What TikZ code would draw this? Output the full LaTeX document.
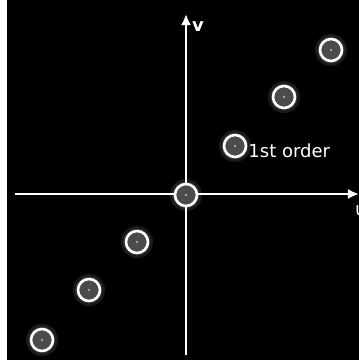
\documentclass[tikz,border=0pt]{standalone}
\usepackage{fontspec}
\setmainfont{DejaVu Sans}
\usetikzlibrary{arrows.meta,positioning}
\definecolor{SpotGrey}{RGB}{75,75,75}

\tikzset{
 spot/.style={circle,draw=white,line width=2.6pt,fill=SpotGrey,minimum size=22pt,inner sep=0pt,
  path picture={\fill[gray!70] (path picture bounding box.center) circle (1.4pt);}},
 glow/.style={circle,fill=white,opacity=.1,minimum size=32pt,inner sep=0pt},
 axis/.style={line width=2.8pt,white,-{Latex[length=11pt,width=10pt]}},
 lab/.style={text=white,font=\fontsize{18}{20}\selectfont}
}

\begin{document}
\begin{tikzpicture}[x=1pt,y=1pt]
\useasboundingbox (0,0) rectangle (359,360);
\fill[white] (0,0) rectangle (7,360);
\fill[black] (7,0) rectangle (359,360);
% axes
\coordinate (uL) at (15,166);
\coordinate (uR) at (359,166);
\coordinate (vB) at (186,5);
\coordinate (vT) at (186,346);
\draw[axis] (uL) -- (uR);
\draw[axis] (vB) -- (vT);
\node[lab,anchor=west,inner sep=1pt] (v) at (191,333) {\bfseries v};
\node[lab,anchor=north west,inner sep=1pt] (u) at (354,156) {u};
% diffraction spots
\foreach \n/\x/\y in {o/186/165,p1/235/214,p2/284/263,p3/331/310,m1/137/118,m2/89/70,m3/42/20}{
 \node[glow] at (\x,\y) {};
 \node[glow,minimum size=27pt] at (\x,\y) {};
 \node[spot] (\n) at (\x,\y) {};
}
\node[lab,anchor=west,right=0pt of p1,yshift=-5pt,inner sep=1pt] (first) {1st order};
\end{tikzpicture}
\end{document}
